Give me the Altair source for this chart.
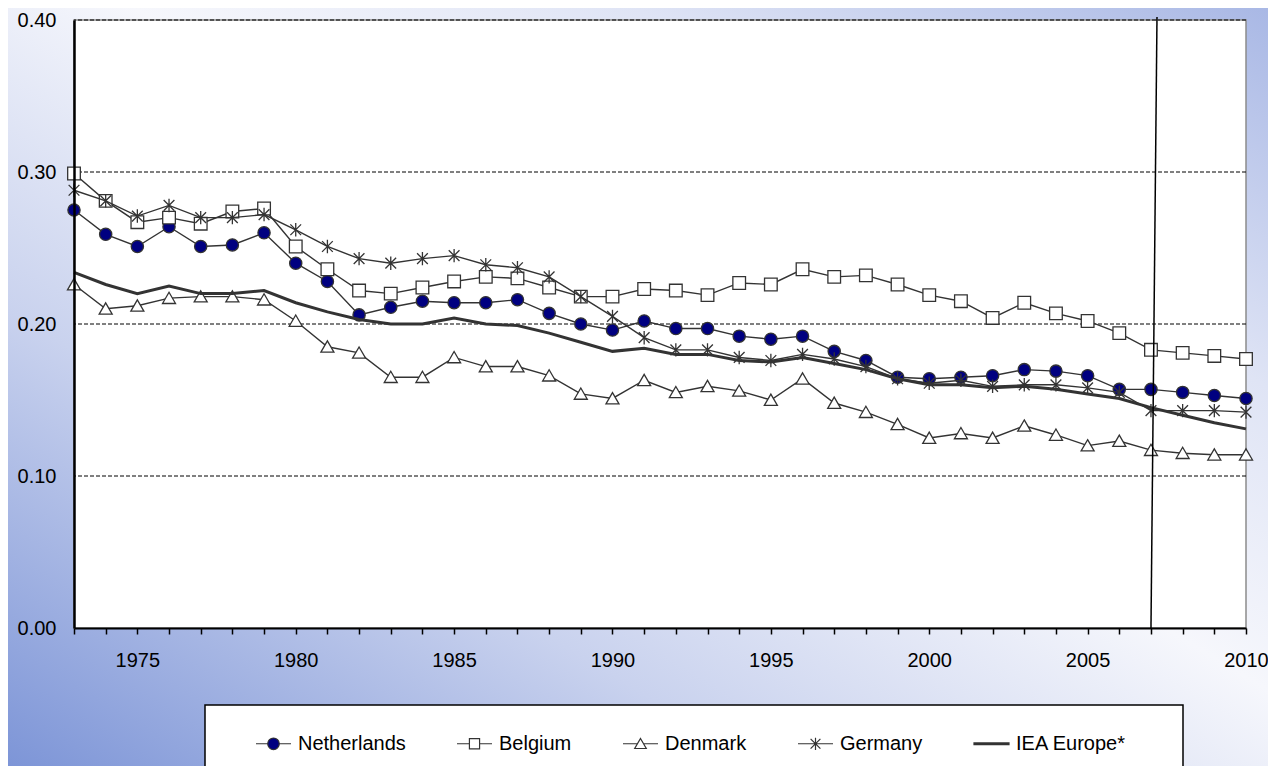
import altair as alt
import pandas as pd

# ---------------- data ----------------
years = list(range(1973, 2011))

netherlands = [0.275, 0.259, 0.251, 0.264, 0.251, 0.252, 0.260, 0.240, 0.228, 0.206,
               0.211, 0.215, 0.214, 0.214, 0.216, 0.207, 0.200, 0.196, 0.202, 0.197,
               0.197, 0.192, 0.190, 0.192, 0.182, 0.176, 0.165, 0.164, 0.165, 0.166,
               0.170, 0.169, 0.166, 0.157, 0.157, 0.155, 0.153, 0.151]

belgium = [0.299, 0.281, 0.267, 0.270, 0.266, 0.274, 0.276, 0.251, 0.236, 0.222,
           0.220, 0.224, 0.228, 0.231, 0.230, 0.224, 0.218, 0.218, 0.223, 0.222,
           0.219, 0.227, 0.226, 0.236, 0.231, 0.232, 0.226, 0.219, 0.215, 0.204,
           0.214, 0.207, 0.202, 0.194, 0.183, 0.181, 0.179, 0.177]

denmark = [0.226, 0.210, 0.212, 0.217, 0.218, 0.218, 0.216, 0.202, 0.185, 0.181,
           0.165, 0.165, 0.178, 0.172, 0.172, 0.166, 0.154, 0.151, 0.163, 0.155,
           0.159, 0.156, 0.150, 0.164, 0.148, 0.142, 0.134, 0.125, 0.128, 0.125,
           0.133, 0.127, 0.120, 0.123, 0.117, 0.115, 0.114, 0.114]

germany = [0.288, 0.281, 0.271, 0.278, 0.270, 0.270, 0.272, 0.262, 0.251, 0.243,
           0.240, 0.243, 0.245, 0.239, 0.237, 0.231, 0.218, 0.205, 0.191, 0.183,
           0.183, 0.178, 0.176, 0.180, 0.177, 0.172, 0.164, 0.161, 0.163, 0.159,
           0.160, 0.160, 0.158, 0.155, 0.143, 0.143, 0.143, 0.142]

iea_europe = [0.234, 0.226, 0.220, 0.225, 0.220, 0.220, 0.222, 0.214, 0.208, 0.203,
              0.200, 0.200, 0.204, 0.200, 0.199, 0.194, 0.188, 0.182, 0.184, 0.180,
              0.180, 0.176, 0.175, 0.178, 0.174, 0.170, 0.164, 0.160, 0.160, 0.158,
              0.159, 0.157, 0.154, 0.151, 0.145, 0.140, 0.135, 0.131]

series_names = ["Netherlands", "Belgium", "Denmark", "Germany", "IEA Europe*"]
series_values = [netherlands, belgium, denmark, germany, iea_europe]

y_ticks = [0.0, 0.1, 0.2, 0.3, 0.4]
grid_values = [0.1, 0.2, 0.3, 0.4]
x_tick_years = years

# the thin (slightly slanted) vertical marker line near 2007
break_top_year = [2007.19]
break_bottom_year = [2007.0]
break_top_value = [0.402]
break_bottom_value = [0.0]

# ---------------- tables ----------------
rows = []
for name, vals in zip(series_names, series_values):
    for yr, v in zip(years, vals):
        rows.append({"year": yr, "value": v, "series": name})
df = pd.DataFrame(rows)

grid_df = pd.DataFrame({"value": grid_values})
break_df = pd.DataFrame({"year": break_top_year, "year2": break_bottom_year,
                         "value": break_top_value, "value2": break_bottom_value})
one = pd.DataFrame({"k": [1]})

# ---------------- style ----------------
FONT = "Liberation Sans"
W, H = 1172, 608
PAD_L, PAD_T = 66, 12
PAD_R, PAD_B = 22, 138
INK = "#333333"

x_axis = alt.Axis(values=x_tick_years,
                  labelExpr="datum.value % 5 == 0 ? datum.value : ''",
                  tickSize=6, tickColor="black", tickWidth=1.5,
                  domainColor="black", domainWidth=2,
                  labelFont=FONT, labelFontSize=20, labelColor="black",
                  labelPadding=16, labelFlush=False, labelOverlap=False,
                  grid=False, title=None, zindex=1)
y_axis = alt.Axis(values=y_ticks, format=".2f", ticks=False,
                  domainColor="black", domainWidth=2.5,
                  labelFont=FONT, labelFontSize=20, labelColor="black",
                  labelPadding=18, grid=False, title=None, zindex=1)

xs = alt.Scale(domain=[1973, 2010], nice=False, zero=False)
ys = alt.Scale(domain=[0, 0.4], nice=False, zero=True)

X = alt.X("year:Q", scale=xs, axis=x_axis)
Y = alt.Y("value:Q", scale=ys, axis=y_axis)

# ---------------- background ----------------
gradient = alt.LinearGradient(
    gradient="linear",
    stops=[alt.GradientStop(color="#7d95d7", offset=0),
           alt.GradientStop(color="#c9d2ee", offset=0.3),
           alt.GradientStop(color="#f6f7fc", offset=0.55),
           alt.GradientStop(color="#dfe4f5", offset=0.75),
           alt.GradientStop(color="#a9b8e5", offset=1)],
    x1=0, y1=1, x2=1, y2=0)

bg = alt.Chart(one).mark_rect(fill=gradient, strokeWidth=0).encode(
    x=alt.value(-PAD_L), x2=alt.value(W + PAD_R),
    y=alt.value(-PAD_T), y2=alt.value(H + PAD_B))

plot_bg = alt.Chart(one).mark_rect(fill="white", stroke="#8c8c8c", strokeWidth=1.5).encode(
    x=alt.value(0), x2=alt.value(W), y=alt.value(0), y2=alt.value(H))

grid = alt.Chart(grid_df).mark_rule(color="black", strokeWidth=1, strokeDash=[4, 2]).encode(
    y=Y)

# ---------------- series ----------------
star_path = "M-0.8,-0.8L0.8,0.8M-0.8,0.8L0.8,-0.8M0,-1V1"
tri_path = "M0,-1L1.1,0.9H-1.1Z"

marker_spec = {
    "Netherlands": dict(shape="circle", size=150, filled=True, fill="#000080"),
    "Belgium": dict(shape="square", size=160, filled=True, fill="white"),
    "Denmark": dict(shape=tri_path, size=140, filled=True, fill="white"),
    "Germany": dict(shape=star_path, size=180, filled=False),
}

layers = [bg, plot_bg, grid]
for name in series_names[:4]:
    base = alt.Chart(df).transform_filter(alt.datum.series == name)
    layers.append(base.mark_line(color=INK, strokeWidth=1.4).encode(x=X, y=Y))
    spec = marker_spec[name]
    layers.append(base.mark_point(stroke=INK, strokeWidth=1.3, opacity=1, **spec).encode(x=X, y=Y))

layers.append(alt.Chart(df).transform_filter(alt.datum.series == "IEA Europe*")
              .mark_line(color=INK, strokeWidth=3).encode(x=X, y=Y))

break_line = alt.Chart(break_df).mark_rule(color="black", strokeWidth=1.5).encode(
    x=X, x2="year2:Q", y=Y, y2="value2:Q")
layers.append(break_line)

# ---------------- legend ----------------
legend_box = alt.Chart(one).mark_rect(fill="white", stroke="black", strokeWidth=1.5).encode(
    x=alt.value(131), x2=alt.value(1109), y=alt.value(685), y2=alt.value(800))
layers.append(legend_box)

legend_paths = [
    "M-1,0H-0.33M0.33,0H1M-0.33,0A0.33,0.33 0 1,0 0.33,0A0.33,0.33 0 1,0 -0.33,0Z",
    "M-1,0H-0.29M0.29,0H1M-0.29,-0.29H0.29V0.29H-0.29Z",
    "M-1,0H-0.17M0.17,0H1M0,-0.3L0.33,0.27H-0.33Z",
    "M-1,0H1M-0.28,-0.28L0.28,0.28M-0.28,0.28L0.28,-0.28M0,-0.35V0.35",
    "M-1,-0.05H1V0.05H-1Z",
]
legend_fills = ["#000080", "white", "white", "white", INK]
legend_strokes = [INK] * 5

leg = alt.Legend(orient="none", legendX=181, legendY=705, direction="horizontal",
                 columns=5, title=None, symbolSize=1225, symbolStrokeColor=INK,
                 symbolStrokeWidth=1.2, labelFont=FONT, labelFontSize=20,
                 labelColor="black", labelOffset=6, columnPadding=48, padding=0,
                 labelLimit=300)

legend_layer = alt.Chart(df).transform_filter("false").mark_point(
    strokeWidth=1.2, opacity=1).encode(
    shape=alt.Shape("series:N", scale=alt.Scale(domain=series_names, range=legend_paths), legend=leg),
    fill=alt.Fill("series:N", scale=alt.Scale(domain=series_names, range=legend_fills), legend=leg),
    stroke=alt.Stroke("series:N", scale=alt.Scale(domain=series_names, range=legend_strokes), legend=leg),
)
layers.append(legend_layer)

chart = alt.layer(*layers).properties(
    width=W, height=H,
    autosize=alt.AutoSizeParams(type="none"),
    padding={"left": PAD_L, "top": PAD_T, "right": PAD_R, "bottom": PAD_B},
).configure_view(strokeWidth=0)

chart.save("out.html", embed_options={"renderer": "svg", "actions": False})
